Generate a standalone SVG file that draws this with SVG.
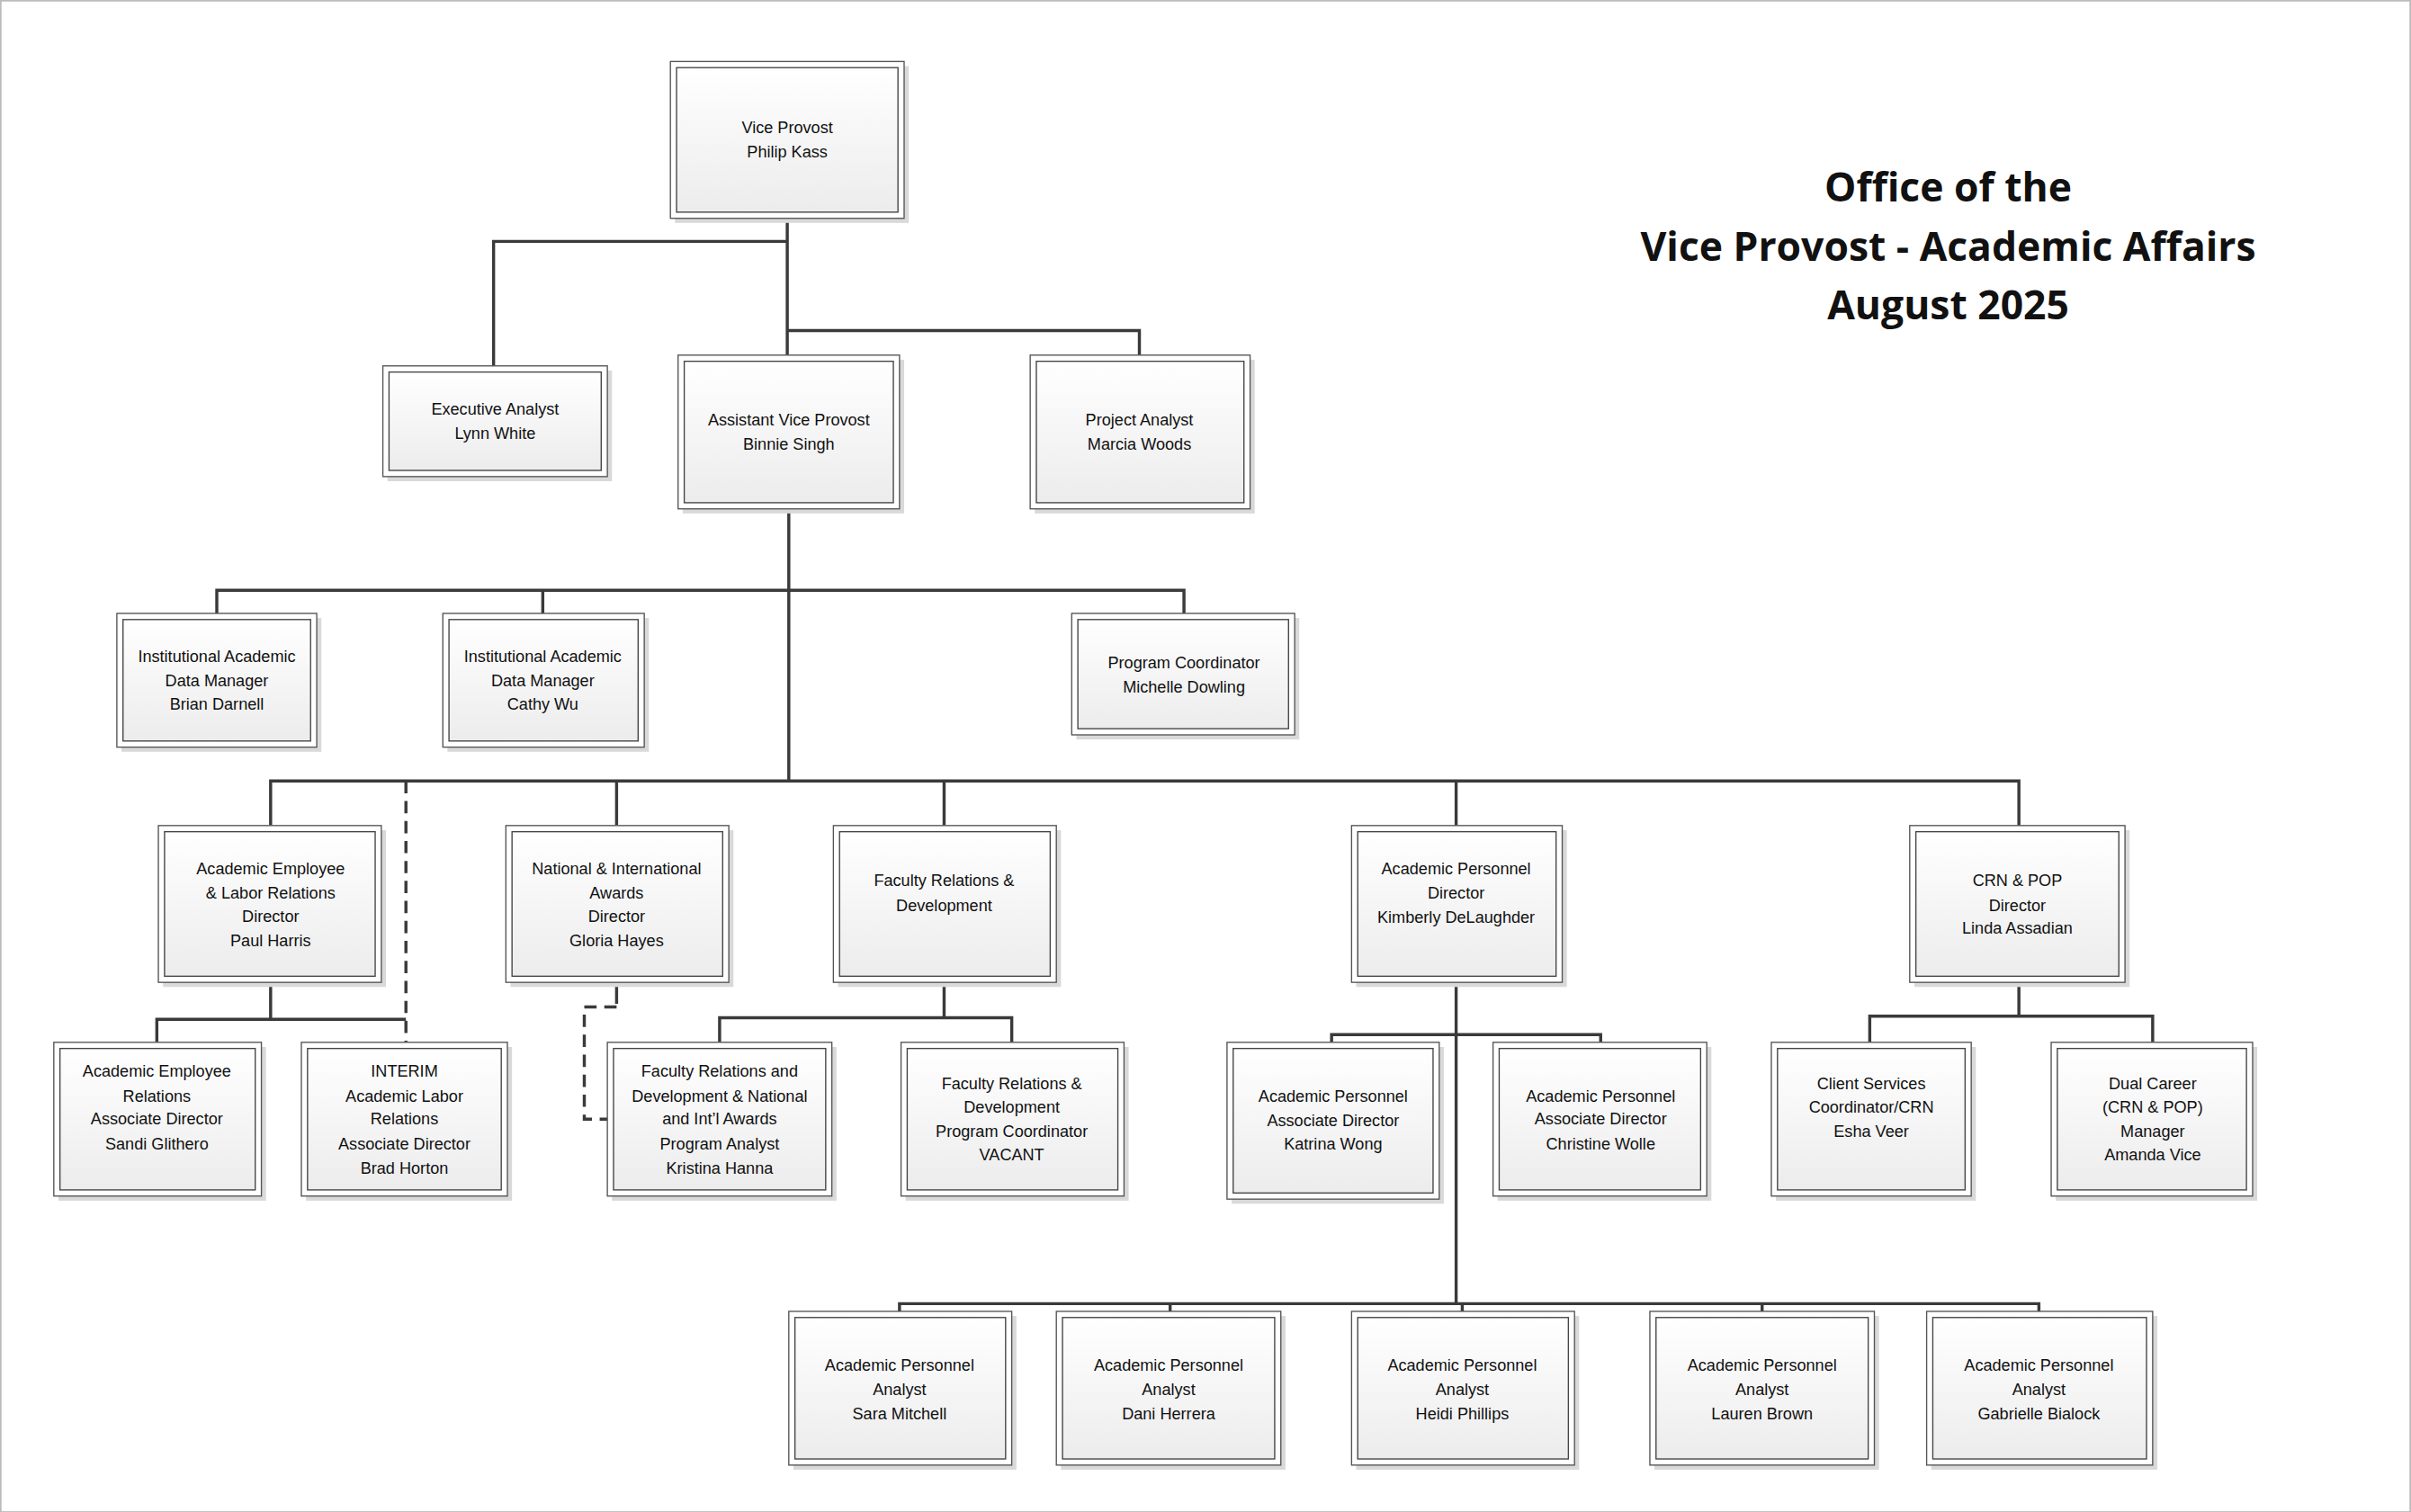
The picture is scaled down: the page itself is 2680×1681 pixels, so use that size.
<svg xmlns="http://www.w3.org/2000/svg" width="2680" height="1681" viewBox="0 0 2680 1681">
<style>
.sh{fill:#d9d9d9}
.o{fill:#fff;stroke:#555;stroke-width:0.8}
.i{fill:url(#g);stroke:#444;stroke-width:0.8}
text{font-family:"Liberation Sans",Arial,sans-serif;font-size:10.6px;fill:#111;text-anchor:middle;dominant-baseline:central}
.t{font-size:26px;font-weight:bold;font-family:"Open Sans","Liberation Sans",sans-serif}
#c path{fill:none;stroke:#3a3a3a;stroke-width:2}
#c .d{stroke-dasharray:8 5}
</style>
<defs>
<linearGradient id="g" x1="0" y1="0" x2="0" y2="1"><stop offset="0" stop-color="#ffffff"/><stop offset="1" stop-color="#ececec"/></linearGradient>
</defs>
<rect x="0" y="0" width="2680" height="1681" fill="#fff"/>
<g transform="scale(1.70918)">
<rect x="0.5" y="0.5" width="1567" height="983" fill="none" stroke="#bbb" stroke-width="1"/>
<g id="title"><text class="t" x="1267" y="121">Office of the</text><text class="t" x="1267" y="160">Vice Provost - Academic Affairs</text><text class="t" x="1267" y="198">August 2025</text></g>
<g id="c">
<path d="M512 142V215M321 238V157H512M512 215H741V231M512 215V231"/>
<path d="M513 331V508M141 399V384H770V399M353 384V399"/>
<path d="M176 537V508H1313V537M401 508V537M614 508V537M947 508V537"/>
<path class="d" d="M264 508V678"/>
<path d="M176 639V663M102 678V663H264"/>
<path d="M401 639V653"/>
<path class="d" d="M401 655H380V728H395"/>
<path d="M614 639V662M468 678V662H658V678"/>
<path d="M947 639V848M866 678V673H1041V678"/>
<path d="M585 853V848H1326V853M761 848V853M951 848V853M1146 848V853"/>
<path d="M1313 639V661M1216 678V661H1400V678"/>
</g>
<g id="vp"><rect class="sh" x="439" y="43" width="152" height="102"/><rect class="o" x="436" y="40" width="152" height="102"/><rect class="i" x="440" y="44" width="144" height="94"/><text x="512" y="83">Vice Provost</text><text x="512" y="99">Philip Kass</text></g>
<g id="exec"><rect class="sh" x="252" y="241" width="146" height="72"/><rect class="o" x="249" y="238" width="146" height="72"/><rect class="i" x="253" y="242" width="138" height="64"/><text x="322" y="266">Executive Analyst</text><text x="322" y="282">Lynn White</text></g>
<g id="avp"><rect class="sh" x="444" y="234" width="144" height="100"/><rect class="o" x="441" y="231" width="144" height="100"/><rect class="i" x="445" y="235" width="136" height="92"/><text x="513" y="273">Assistant Vice Provost</text><text x="513" y="289">Binnie Singh</text></g>
<g id="proj"><rect class="sh" x="673" y="234" width="143" height="100"/><rect class="o" x="670" y="231" width="143" height="100"/><rect class="i" x="674" y="235" width="135" height="92"/><text x="741" y="273">Project Analyst</text><text x="741" y="289">Marcia Woods</text></g>
<g id="brian"><rect class="sh" x="79" y="402" width="130" height="87"/><rect class="o" x="76" y="399" width="130" height="87"/><rect class="i" x="80" y="403" width="122" height="79"/><text x="141" y="427">Institutional Academic</text><text x="141" y="443">Data Manager</text><text x="141" y="458">Brian Darnell</text></g>
<g id="cathy"><rect class="sh" x="291" y="402" width="131" height="87"/><rect class="o" x="288" y="399" width="131" height="87"/><rect class="i" x="292" y="403" width="123" height="79"/><text x="353" y="427">Institutional Academic</text><text x="353" y="443">Data Manager</text><text x="353" y="458">Cathy Wu</text></g>
<g id="michelle"><rect class="sh" x="700" y="402" width="145" height="79"/><rect class="o" x="697" y="399" width="145" height="79"/><rect class="i" x="701" y="403" width="137" height="71"/><text x="770" y="431">Program Coordinator</text><text x="770" y="447">Michelle Dowling</text></g>
<g id="paul"><rect class="sh" x="106" y="540" width="145" height="102"/><rect class="o" x="103" y="537" width="145" height="102"/><rect class="i" x="107" y="541" width="137" height="94"/><text x="176" y="565">Academic Employee</text><text x="176" y="581">&amp; Labor Relations</text><text x="176" y="596">Director</text><text x="176" y="612">Paul Harris</text></g>
<g id="gloria"><rect class="sh" x="332" y="540" width="145" height="102"/><rect class="o" x="329" y="537" width="145" height="102"/><rect class="i" x="333" y="541" width="137" height="94"/><text x="401" y="565">National &amp; International</text><text x="401" y="581">Awards</text><text x="401" y="596">Director</text><text x="401" y="612">Gloria Hayes</text></g>
<g id="frd"><rect class="sh" x="545" y="540" width="145" height="102"/><rect class="o" x="542" y="537" width="145" height="102"/><rect class="i" x="546" y="541" width="137" height="94"/><text x="614" y="573">Faculty Relations &amp;</text><text x="614" y="589">Development</text></g>
<g id="kim"><rect class="sh" x="882" y="540" width="137" height="102"/><rect class="o" x="879" y="537" width="137" height="102"/><rect class="i" x="883" y="541" width="129" height="94"/><text x="947" y="565">Academic Personnel</text><text x="947" y="581">Director</text><text x="947" y="597">Kimberly DeLaughder</text></g>
<g id="linda"><rect class="sh" x="1245" y="540" width="140" height="102"/><rect class="o" x="1242" y="537" width="140" height="102"/><rect class="i" x="1246" y="541" width="132" height="94"/><text x="1312" y="573">CRN &amp; POP</text><text x="1312" y="589">Director</text><text x="1312" y="604">Linda Assadian</text></g>
<g id="sandi"><rect class="sh" x="38" y="681" width="135" height="100"/><rect class="o" x="35" y="678" width="135" height="100"/><rect class="i" x="39" y="682" width="127" height="92"/><text x="102" y="697">Academic Employee</text><text x="102" y="713">Relations</text><text x="102" y="728">Associate Director</text><text x="102" y="744">Sandi Glithero</text></g>
<g id="brad"><rect class="sh" x="199" y="681" width="134" height="100"/><rect class="o" x="196" y="678" width="134" height="100"/><rect class="i" x="200" y="682" width="126" height="92"/><text x="263" y="697">INTERIM</text><text x="263" y="713">Academic Labor</text><text x="263" y="728">Relations</text><text x="263" y="744">Associate Director</text><text x="263" y="760">Brad Horton</text></g>
<g id="kristina"><rect class="sh" x="398" y="681" width="146" height="100"/><rect class="o" x="395" y="678" width="146" height="100"/><rect class="i" x="399" y="682" width="138" height="92"/><text x="468" y="697">Faculty Relations and</text><text x="468" y="713">Development &amp; National</text><text x="468" y="728">and Int’l Awards</text><text x="468" y="744">Program Analyst</text><text x="468" y="760">Kristina Hanna</text></g>
<g id="vacant"><rect class="sh" x="589" y="681" width="145" height="100"/><rect class="o" x="586" y="678" width="145" height="100"/><rect class="i" x="590" y="682" width="137" height="92"/><text x="658" y="705">Faculty Relations &amp;</text><text x="658" y="720">Development</text><text x="658" y="736">Program Coordinator</text><text x="658" y="751">VACANT</text></g>
<g id="katrina"><rect class="sh" x="801" y="681" width="138" height="102"/><rect class="o" x="798" y="678" width="138" height="102"/><rect class="i" x="802" y="682" width="130" height="94"/><text x="867" y="713">Academic Personnel</text><text x="867" y="729">Associate Director</text><text x="867" y="744">Katrina Wong</text></g>
<g id="christine"><rect class="sh" x="974" y="681" width="139" height="100"/><rect class="o" x="971" y="678" width="139" height="100"/><rect class="i" x="975" y="682" width="131" height="92"/><text x="1041" y="713">Academic Personnel</text><text x="1041" y="728">Associate Director</text><text x="1041" y="744">Christine Wolle</text></g>
<g id="esha"><rect class="sh" x="1155" y="681" width="130" height="100"/><rect class="o" x="1152" y="678" width="130" height="100"/><rect class="i" x="1156" y="682" width="122" height="92"/><text x="1217" y="705">Client Services</text><text x="1217" y="720">Coordinator/CRN</text><text x="1217" y="736">Esha Veer</text></g>
<g id="amanda"><rect class="sh" x="1337" y="681" width="131" height="100"/><rect class="o" x="1334" y="678" width="131" height="100"/><rect class="i" x="1338" y="682" width="123" height="92"/><text x="1400" y="705">Dual Career</text><text x="1400" y="720">(CRN &amp; POP)</text><text x="1400" y="736">Manager</text><text x="1400" y="751">Amanda Vice</text></g>
<g id="sara"><rect class="sh" x="516" y="856" width="145" height="100"/><rect class="o" x="513" y="853" width="145" height="100"/><rect class="i" x="517" y="857" width="137" height="92"/><text x="585" y="888">Academic Personnel</text><text x="585" y="904">Analyst</text><text x="585" y="920">Sara Mitchell</text></g>
<g id="dani"><rect class="sh" x="690" y="856" width="146" height="100"/><rect class="o" x="687" y="853" width="146" height="100"/><rect class="i" x="691" y="857" width="138" height="92"/><text x="760" y="888">Academic Personnel</text><text x="760" y="904">Analyst</text><text x="760" y="920">Dani Herrera</text></g>
<g id="heidi"><rect class="sh" x="882" y="856" width="145" height="100"/><rect class="o" x="879" y="853" width="145" height="100"/><rect class="i" x="883" y="857" width="137" height="92"/><text x="951" y="888">Academic Personnel</text><text x="951" y="904">Analyst</text><text x="951" y="920">Heidi Phillips</text></g>
<g id="lauren"><rect class="sh" x="1076" y="856" width="146" height="100"/><rect class="o" x="1073" y="853" width="146" height="100"/><rect class="i" x="1077" y="857" width="138" height="92"/><text x="1146" y="888">Academic Personnel</text><text x="1146" y="904">Analyst</text><text x="1146" y="920">Lauren Brown</text></g>
<g id="gabrielle"><rect class="sh" x="1256" y="856" width="147" height="100"/><rect class="o" x="1253" y="853" width="147" height="100"/><rect class="i" x="1257" y="857" width="139" height="92"/><text x="1326" y="888">Academic Personnel</text><text x="1326" y="904">Analyst</text><text x="1326" y="920">Gabrielle Bialock</text></g>
</g>
</svg>
